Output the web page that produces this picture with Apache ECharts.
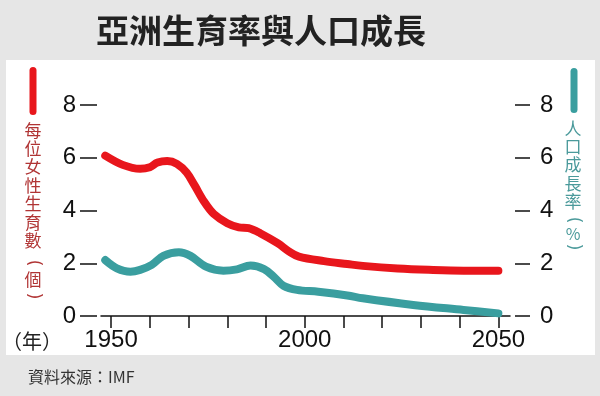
<!DOCTYPE html>
<html>
<head>
<meta charset="utf-8">
<script src="https://cdn.jsdelivr.net/npm/echarts@6/dist/echarts.min.js"></script>
<style>
html,body{margin:0;padding:0;background:#e6e6e6;}
#main{width:600px;height:396px;}
</style>
</head>
<body>
<div id="main"></div>
<script>
// 每位女性生育數
var fertYears = [1948.5,1953,1957.5,1960,1962,1964.5,1967,1969.5,1971.5,1974,1976.5,1980,1983,1985.5,1988.5,1993,1996,1998.5,2005,2011,2015,2024,2032,2041,2050];
var fertVals = [6.08,5.73,5.58,5.64,5.82,5.88,5.77,5.44,4.97,4.34,3.87,3.52,3.36,3.33,3.14,2.76,2.44,2.25,2.08,1.97,1.90,1.80,1.75,1.72,1.72];
// 人口成長率(%)
var growYears = [1948.5,1951.5,1955,1957.5,1960.5,1963.5,1967.5,1970.5,1974.5,1979,1982.5,1986,1989.5,1992,1994.5,1998,2003.5,2011,2015,2028,2041,2050];
var growVals = [2.12,1.81,1.68,1.75,1.94,2.28,2.42,2.28,1.87,1.72,1.77,1.91,1.78,1.49,1.15,0.99,0.92,0.78,0.67,0.42,0.23,0.10];
var tickYears = [1950,1960,1970,1980,1990,2000,2010,2020,2030,2040,2050];
var labelYears = [1950,2000,2050];

var fertData = [], growData = [];
for(var i=0;i<fertYears.length;i++){ fertData.push([fertYears[i],fertVals[i]]); }
for(var j=0;j<growYears.length;j++){ growData.push([growYears[j],growVals[j]]); }

var myChart = echarts.init(document.getElementById('main'));
var cjk = '"Noto Sans CJK TC","Noto Sans CJK SC",sans-serif';
var num = '"Liberation Sans",Arial,sans-serif';
var redText = '#b03434', tealText = '#4b9a9b';

// 直排括號用旋轉的 ( )
function paren(ch, x, y, color){
    return {type:'text', x:x, y:y, rotation:-Math.PI/2,
        style:{text:ch, font:'17px "DejaVu Sans",sans-serif', fill:color, align:'center', verticalAlign:'middle'}};
}

option = {
    backgroundColor: '#e6e6e6',
    animation: false,
    grid: {left: 101, right: 90, top: 105, bottom: 80},
    graphic: [
        {type:'rect', z:-10, shape:{x:6,y:60,width:589,height:295}, style:{fill:'#ffffff'}},
        {type:'text', x:261, y:30, style:{text:'亞洲生育率與人口成長', font:'bold 33px '+cjk, fill:'#222', align:'center', verticalAlign:'middle'}},
        // 左圖例
        {type:'rect', shape:{x:29.5,y:67,width:7,height:48,r:3.5}, style:{fill:'#e8161c'}},
        {type:'text', x:33, y:121, style:{text:'每\n位\n女\n性\n生\n育\n數', font:'17px '+cjk, lineHeight:18.4, fill:redText, align:'center', verticalAlign:'top'}},
        paren('(', 33, 263, redText),
        {type:'text', x:33, y:280, style:{text:'個', font:'17px '+cjk, fill:redText, align:'center', verticalAlign:'middle'}},
        paren(')', 33, 296, redText),
        // 右圖例
        {type:'rect', shape:{x:570.5,y:68,width:7,height:45,r:3.5}, style:{fill:'#3a9e9f'}},
        {type:'text', x:573, y:119, style:{text:'人\n口\n成\n長\n率', font:'17px '+cjk, lineHeight:18.4, fill:tealText, align:'center', verticalAlign:'top'}},
        paren('(', 573, 220, tealText),
        {type:'text', x:573, y:234, style:{text:'%', font:'16px '+cjk, fill:tealText, align:'center', verticalAlign:'middle'}},
        paren(')', 573, 247, tealText),
        {type:'text', x:32, y:341, style:{text:'（年）', font:'20px '+cjk, fill:'#222', align:'center', verticalAlign:'middle'}},
        {type:'text', x:28, y:377, style:{text:'資料來源：IMF', font:'16px '+cjk, fill:'#333', align:'left', verticalAlign:'middle'}}
    ],
    xAxis: {
        type: 'value',
        min: 1947.4,
        max: 2053,
        axisLine: {show:true, onZero:false, lineStyle:{color:'#111', width:1.5}},
        axisTick: {show:true, length:12, customValues: tickYears, lineStyle:{color:'#111', width:1.5}},
        axisLabel: {margin:12, customValues: labelYears, fontSize:24, fontFamily:num, color:'#111',
            formatter: function(v){ return String(v); }},
        splitLine: {show:false}
    },
    yAxis: [
        {
            type: 'value', position:'left', offset:4,
            min:0, max:8, interval:2,
            axisLine:{show:false},
            axisTick:{show:true, length:17, lineStyle:{color:'#111', width:1.5}},
            axisLabel:{margin:21, fontSize:24, fontFamily:num, color:'#111'},
            splitLine:{show:false}
        },
        {
            type: 'value', position:'right', offset:5,
            min:0, max:8, interval:2,
            axisLine:{show:false},
            axisTick:{show:true, length:15, lineStyle:{color:'#111', width:1.5}},
            axisLabel:{margin:25, fontSize:24, fontFamily:num, color:'#111'},
            splitLine:{show:false}
        }
    ],
    series: [
        {
            name:'每位女性生育數', type:'line', yAxisIndex:0, data:fertData,
            smooth:0.35, showSymbol:false,
            lineStyle:{color:'#e8161c', width:8, cap:'round', join:'round'}
        },
        {
            name:'人口成長率', type:'line', yAxisIndex:1, data:growData,
            smooth:0.35, showSymbol:false,
            lineStyle:{color:'#3a9e9f', width:8, cap:'round', join:'round'}
        }
    ]
};
myChart.setOption(option,true);
</script>
</body>
</html>
